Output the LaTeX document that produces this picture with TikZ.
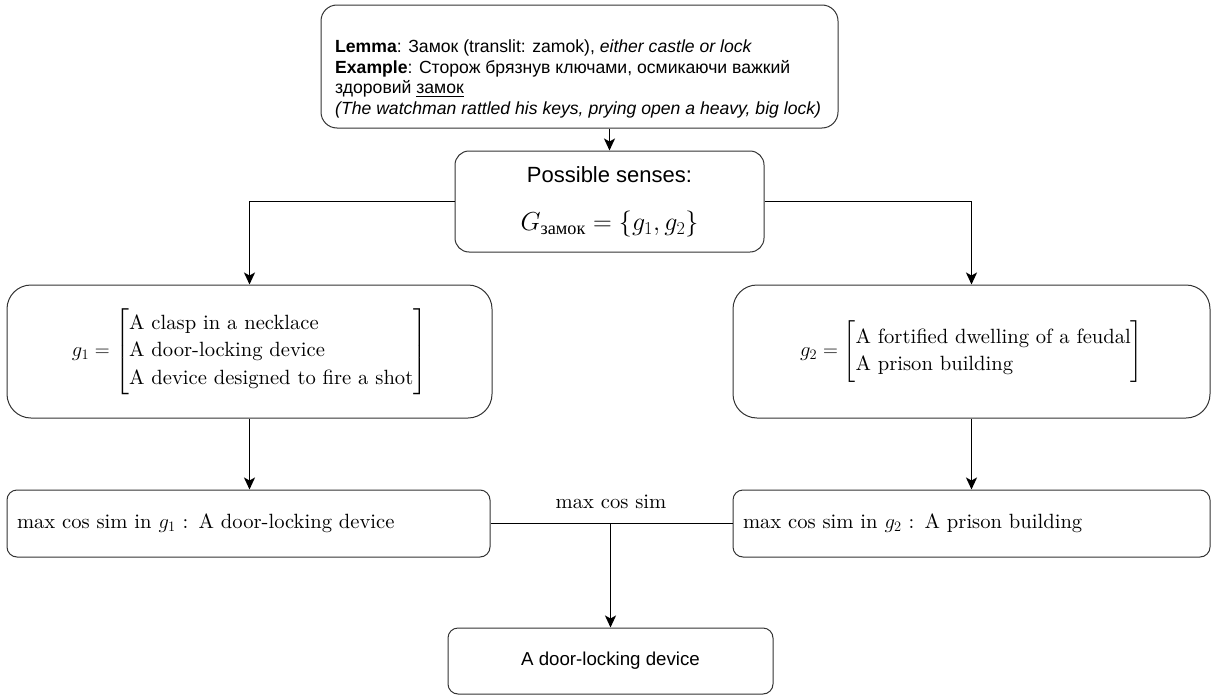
\documentclass[tikz,border=0pt]{standalone}
\usepackage{fix-cm}
\usepackage{amsmath}
\usepackage{amssymb}
\usepackage{fontspec}
\setmainfont{lmroman10-regular.otf}[ItalicFont=lmroman10-italic.otf,BoldFont=lmroman10-bold.otf]
\newfontfamily\helv{Liberation Sans}
\newfontfamily\cyrserif{Liberation Serif}
\usetikzlibrary{arrows.meta}

\begin{document}
\begin{tikzpicture}[x=1pt,y=-1pt,
  box/.style={draw=black!80,line width=1pt,rounded corners=#1},
  box/.default=12pt,
  link/.style={line width=1.8pt},
  arr/.style={link,-{Stealth[length=12pt,width=11pt,inset=3pt]}}]
\useasboundingbox (0,0) rectangle (1213,696);

\node[box=16pt,minimum width=517pt,minimum height=123pt] (lemma) at (579.5,66.5) {};
\node[anchor=west,inner sep=0pt,align=left,font=\helv\fontsize{17.6}{20.8}\selectfont] (example) at (335,79) {\textbf{Lemma}: Замок (translit: zamok), \textit{either castle or lock}\\
\textbf{Example}: Сторож брязнув ключами, осмикаючи важкий\\
здоровий \underline{замок}\\
\textit{(The watchman rattled his keys, prying open a heavy, big lock)}};

\node[box=14pt,minimum width=309pt,minimum height=101pt,align=center,font=\helv\fontsize{22}{26}\selectfont] (senses) at (609.5,201.5) {Possible senses:\\[22pt]
{\fontsize{26}{30}\selectfont$G_{\text{\cyrserif замок}}=\{g_1,g_2\}$}};

\node[box=24pt,minimum width=485pt,minimum height=133pt,font=\fontsize{20.6}{24}\selectfont] (gone) at (249.5,351.5) {$g_1=\renewcommand\arraystretch{1.14}\left[\begin{array}{@{}l@{}}\text{A clasp in a necklace}\\ \text{A door-locking device}\\ \text{A device designed to fire a shot}\end{array}\right]$};
\node[box=24pt,minimum width=477pt,minimum height=133pt,font=\fontsize{20.6}{24}\selectfont] (gtwo) at (971.5,351.5) {$g_2=\renewcommand\arraystretch{1.14}\left[\begin{array}{@{}l@{}}\text{A fortified dwelling of a feudal}\\ \text{A prison building}\end{array}\right]$};

\node[box=10pt,minimum width=483pt,minimum height=67pt,text width=463pt,align=left,font=\fontsize{20.6}{24}\selectfont] (maxone) at (248.5,523.5) {max cos sim in $g_1$ : A door-locking device};
\node[box=10pt,minimum width=477pt,minimum height=67pt,text width=457pt,align=left,font=\fontsize{20.6}{24}\selectfont] (maxtwo) at (971.5,523.5) {max cos sim in $g_2$ : A prison building};
\node[font=\fontsize{20.6}{24}\selectfont] (simlabel) at (611,502) {max cos sim};

\node[box=10pt,minimum width=325pt,minimum height=66pt,font=\helv\fontsize{18.7}{22}\selectfont] (result) at (610.5,661) {A door-locking device};

\draw[arr] (lemma.south -| senses.north) -- (senses.north);
\draw[arr] (senses.west) -| (gone.north);
\draw[arr] (senses.east) -| (gtwo.north);
\draw[arr] (gone.south) -- (gone.south |- maxone.north);
\draw[arr] (gtwo.south) -- (gtwo.south |- maxtwo.north);
\draw[link] (maxone.east) -- (maxtwo.west);
\coordinate (join) at (maxone.east -| result.north);
\draw[arr] (join) -- (result.north);
\end{tikzpicture}
\end{document}
